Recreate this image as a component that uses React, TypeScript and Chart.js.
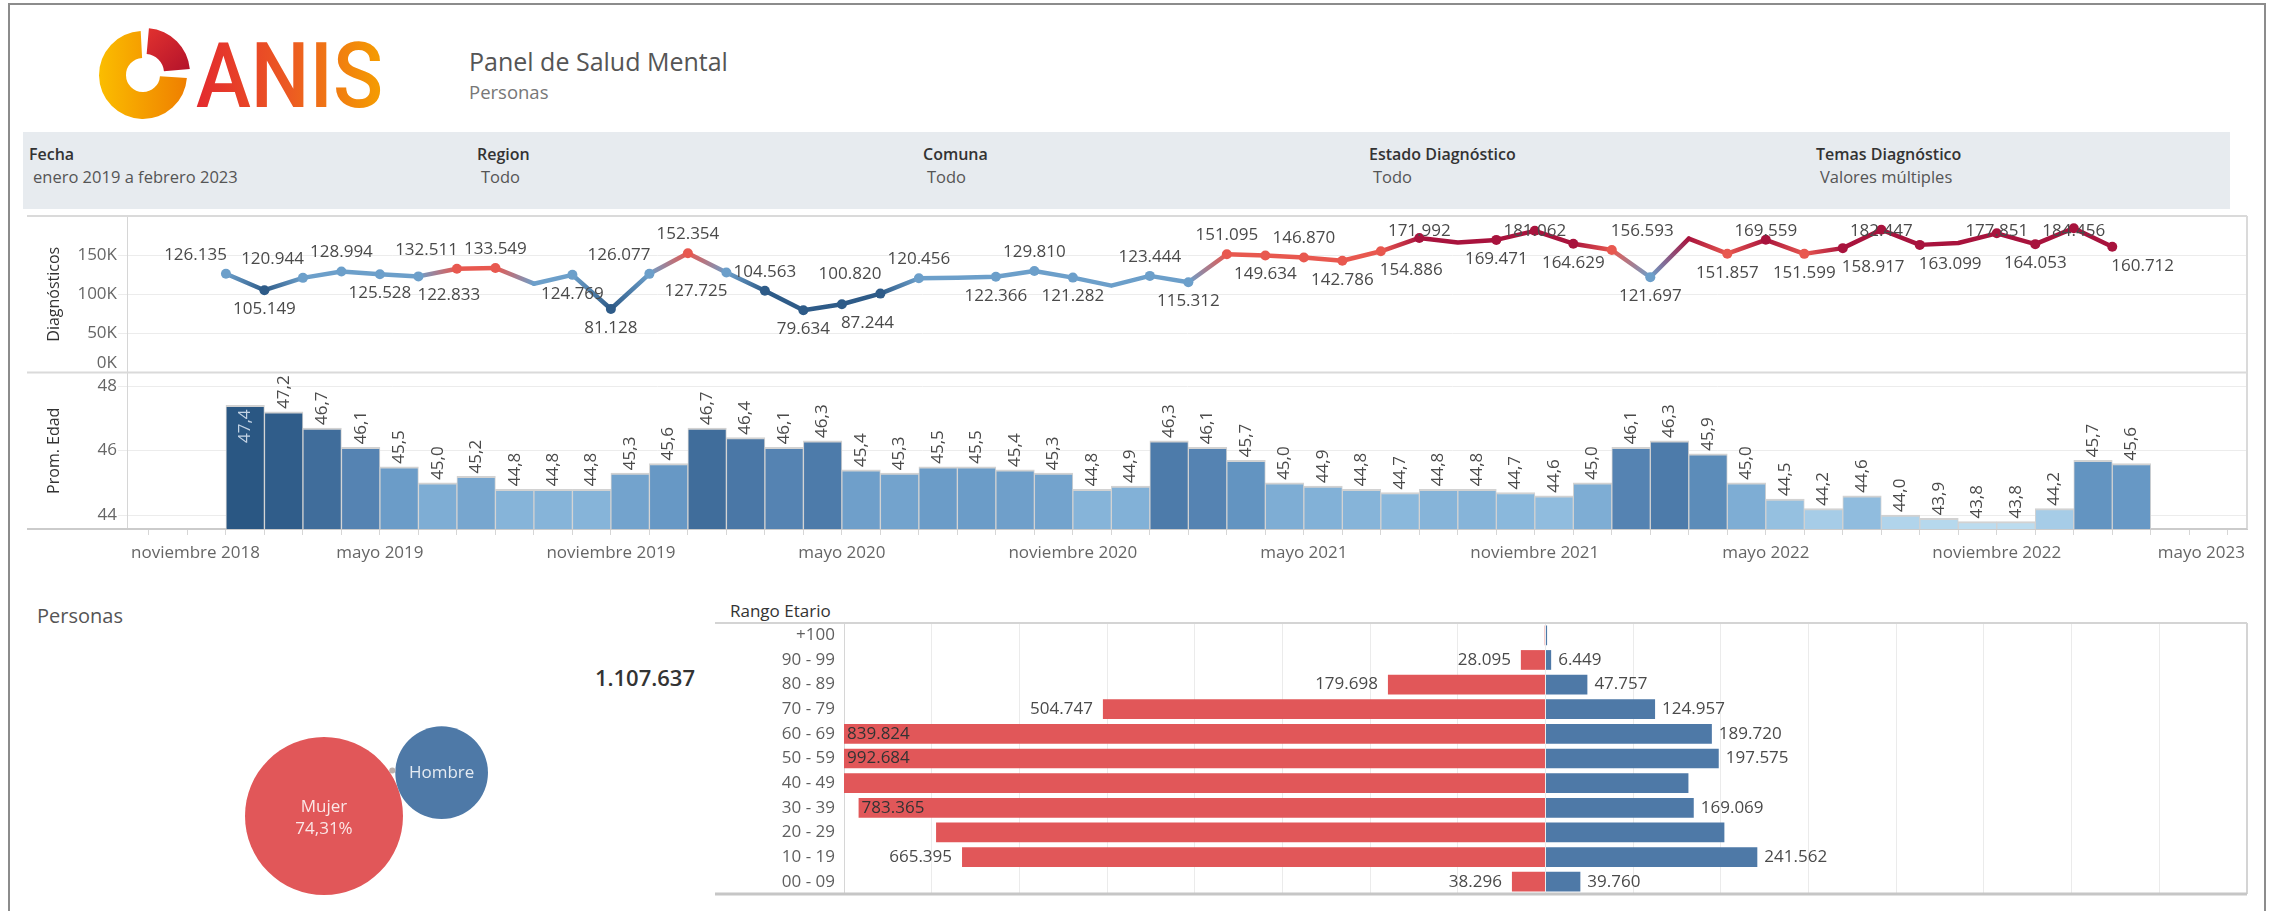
import React, { useEffect, useRef } from 'react';
import { Chart, registerables } from 'chart.js';

Chart.register(...registerables);

const FONT_FAMILY = "'Open Sans', 'Noto Sans', 'DejaVu Sans', sans-serif";
Chart.defaults.font.family = FONT_FAMILY;

// ---------------- DATA ----------------
const MONTH_NAMES = ['enero', 'febrero', 'marzo', 'abril', 'mayo', 'junio', 'julio', 'agosto', 'septiembre', 'octubre', 'noviembre', 'diciembre'];
const FIRST_YEAR = 2019; // month index 0 = enero 2019 ... 49 = febrero 2023

const diagnosticos = [
  126135, 105149, 120944, 128994, 125528, 122833, 132511, 133549, 113500, 124769,
  81128, 126077, 152354, 127725, 104563, 79634, 87244, 100820, 120456, 121000,
  122366, 129810, 121282, 111000, 123444, 115312, 151095, 149634, 146870, 142786,
  154886, 171992, 166000, 169471, 181062, 164629, 156593, 121697, 171000, 151857,
  169559, 151599, 158917, 182447, 163099, 165500, 177851, 164053, 184456, 160712,
];
// label placement: a = above, b = below, l/r = shifted left/right, '' = no label
const diagnosticosEtiqueta = [
  'al', 'b', 'al', 'a', 'b', 'br', 'al', 'a', '', 'b',
  'b', 'al', 'a', 'bl', 'a', 'b', 'br', 'al', 'a', '',
  'b', 'a', 'b', '', 'a', 'b', 'a', 'b', 'a', 'b',
  'br', 'a', '', 'b', 'a', 'b', 'ar', 'b', '', 'b',
  'a', 'b', 'br', 'a', 'br', '', 'a', 'b', 'a', 'br',
];
const promEdad = [
  47.4, 47.2, 46.7, 46.1, 45.5, 45.0, 45.2, 44.8, 44.8, 44.8,
  45.3, 45.6, 46.7, 46.4, 46.1, 46.3, 45.4, 45.3, 45.5, 45.5,
  45.4, 45.3, 44.8, 44.9, 46.3, 46.1, 45.7, 45.0, 44.9, 44.8,
  44.7, 44.8, 44.8, 44.7, 44.6, 45.0, 46.1, 46.3, 45.9, 45.0,
  44.5, 44.2, 44.6, 44.0, 43.9, 43.8, 43.8, 44.2, 45.7, 45.6,
];
const xTickLabels = [
  'noviembre 2018', 'mayo 2019', 'noviembre 2019', 'mayo 2020', 'noviembre 2020',
  'mayo 2021', 'noviembre 2021', 'mayo 2022', 'noviembre 2022', 'mayo 2023',
];
const diagTickValues = [0, 50000, 100000, 150000];
const edadTickValues = [44, 46, 48];

const rangoEtario = ['+100', '90 - 99', '80 - 89', '70 - 79', '60 - 69', '50 - 59', '40 - 49', '30 - 39', '20 - 29', '10 - 19', '00 - 09'];
const mujeresPorRango = [900, 28095, 179698, 504747, 839824, 992684, 905000, 783365, 695000, 665395, 38296];
const hombresPorRango = [1800, 6449, 47757, 124957, 189720, 197575, 163000, 169069, 204000, 241562, 39760];
const rangoConEtiqueta = [false, true, true, true, true, true, false, true, false, true, true];

const generos = ['Mujer', 'Hombre', 'Otro'];
const generoPct = [74.31, 25.58, 0.11];
const generoMuestraPct = [true, false, false];
const generoMuestraNombre = [true, true, false];
const totalPersonas = 1107637;

// ---------------- HELPERS ----------------
const monthIndex = (label: string) => {
  const [m, y] = label.split(' ');
  return (Number(y) - FIRST_YEAR) * 12 + MONTH_NAMES.indexOf(m);
};
const fmtMiles = (v: number) => Math.round(v).toString().replace(/\B(?=(\d{3})+(?!\d))/g, '.');
const fmtDec = (v: number) => v.toFixed(1).replace('.', ',');
const fmtPct = (v: number) => v.toFixed(2).replace('.', ',') + '%';

const hexToRgb = (h: string) => {
  const n = parseInt(h.slice(1), 16);
  return [(n >> 16) & 255, (n >> 8) & 255, n & 255];
};
const mixStops = (stops: string[], t: number) => {
  const tt = Math.max(0, Math.min(1, t));
  const p = tt * (stops.length - 1);
  const i = Math.min(stops.length - 2, Math.floor(p));
  const f = p - i;
  const a = hexToRgb(stops[i]);
  const b = hexToRgb(stops[i + 1]);
  const c = a.map((v, k) => Math.round(v + (b[k] - v) * f));
  return `rgb(${c[0]},${c[1]},${c[2]})`;
};

const DIAG_STEPS = ['#2e5b88', '#6c9fca', '#e8584f', '#a8133d'];
const dMin = Math.min(...diagnosticos);
const dMax = Math.max(...diagnosticos);
const diagColor = (v: number) => {
  const t = (v - dMin) / (dMax - dMin);
  return DIAG_STEPS[Math.min(DIAG_STEPS.length - 1, Math.floor(t * DIAG_STEPS.length))];
};

const BLUE_STOPS = ['#bcdcef', '#8ab8dc', '#6798c5', '#4673a2', '#2a5783'];
const eMin = Math.min(...promEdad);
const eMax = Math.max(...promEdad);
const edadColor = (v: number) => mixStops(BLUE_STOPS, (v - eMin) / (eMax - eMin));

// axis ranges (month units / data units)
const X_MIN = -2.57;
const X_MAX = 52.5;
const DIAG_MAX = 200000;
const EDAD_MIN = 43.57;
const EDAD_MAX = 48.42;
const PYR_MAX = 800000;
const PYR_STEP = 100000;

const TXT = (size: number, weight = 400) => `${weight} ${size}px ${FONT_FAMILY}`;

// ---------------- TIME CHARTS (line + bars, stacked axes) ----------------
function TimeCharts() {
  const ref = useRef<HTMLCanvasElement>(null);
  useEffect(() => {
    const lineData = diagnosticos.map((v, i) => ({ x: i, y: v }));
    const barData = promEdad.map((v, i) => ({ x: i + 0.5, y: v })); // bar spans its month

    const framePlugin = {
      id: 'frame',
      beforeDatasetsDraw(chart: any) {
        const { ctx, chartArea: a, scales } = chart;
        ctx.save();
        ctx.lineWidth = 2;
        ctx.strokeStyle = '#dadada';
        const hl = (y: number) => { ctx.beginPath(); ctx.moveTo(0, y); ctx.lineTo(a.right, y); ctx.stroke(); };
        hl(a.top);
        hl(scales.y2.top);
        ctx.beginPath(); ctx.moveTo(a.right, a.top); ctx.lineTo(a.right, a.bottom); ctx.stroke();
        ctx.strokeStyle = '#cbcbcb';
        hl(a.bottom);
        ctx.restore();
      },
    };

    const yLabelPlugin = {
      id: 'ylabels',
      afterDraw(chart: any) {
        const { ctx } = chart;
        ctx.save();
        ctx.font = TXT(17);
        ctx.fillStyle = '#666';
        ctx.textAlign = 'right';
        ctx.textBaseline = 'middle';
        const defs: [string, (v: number) => string][] = [['y', (v) => `${v / 1000}K`], ['y2', (v) => String(v)]];
        for (const [id, fmt] of defs) {
          const s = chart.scales[id];
          for (const t of s.ticks) {
            let y = s.getPixelForValue(t.value);
            y = Math.min(Math.max(y, s.top + 9), s.bottom - 9);
            ctx.fillText(fmt(t.value), s.right - 10, y);
          }
        }
        ctx.restore();
      },
    };

    const xLabelPlugin = {
      id: 'xlabels',
      afterDraw(chart: any) {
        const { ctx, chartArea: a } = chart;
        const s = chart.scales.x;
        ctx.save();
        ctx.font = TXT(17);
        ctx.fillStyle = '#666';
        ctx.textAlign = 'left';
        ctx.textBaseline = 'middle';
        for (const lbl of xTickLabels) {
          const px = s.getPixelForValue(monthIndex(lbl));
          const w = ctx.measureText(lbl).width;
          let left = px - w / 2;
          left = Math.max(left, a.left + 4);
          left = Math.min(left, a.right - 2 - w);
          ctx.fillText(lbl, left, a.bottom + 24);
        }
        ctx.restore();
      },
    };

    const lineLabelPlugin = {
      id: 'linelabels',
      afterDatasetsDraw(chart: any) {
        const { ctx, chartArea: a } = chart;
        const meta = chart.getDatasetMeta(0);
        ctx.save();
        ctx.font = TXT(17);
        ctx.fillStyle = '#4a4a4a';
        ctx.textBaseline = 'middle';
        meta.data.forEach((pt: any, i: number) => {
          const code = diagnosticosEtiqueta[i];
          if (!code) return;
          const text = fmtMiles(diagnosticos[i]);
          let cy = code[0] === 'a' ? pt.y - 19 : pt.y + 19;
          cy = Math.max(cy, a.top + 15);
          let tx = pt.x;
          if (code[1] === 'l') { ctx.textAlign = 'right'; tx = pt.x + 1; }
          else if (code[1] === 'r') { ctx.textAlign = 'left'; tx = pt.x - 1; }
          else ctx.textAlign = 'center';
          ctx.fillText(text, tx, cy);
        });
        ctx.restore();
      },
    };

    const barLabelPlugin = {
      id: 'barlabels',
      afterDatasetsDraw(chart: any) {
        const { ctx } = chart;
        const meta = chart.getDatasetMeta(1);
        const top = chart.scales.y2.top;
        ctx.save();
        ctx.font = TXT(17);
        ctx.textBaseline = 'middle';
        meta.data.forEach((bar: any, i: number) => {
          const text = fmtDec(promEdad[i]);
          const w = ctx.measureText(text).width;
          ctx.save();
          if (bar.y - top >= w + 3) {
            ctx.translate(bar.x, bar.y - 3);
            ctx.rotate(-Math.PI / 2);
            ctx.textAlign = 'left';
            ctx.fillStyle = '#4a4a4a';
          } else {
            ctx.translate(bar.x, bar.y + 4);
            ctx.rotate(-Math.PI / 2);
            ctx.textAlign = 'right';
            ctx.fillStyle = '#c3d3e4';
          }
          ctx.fillText(text, 0, 0);
          ctx.restore();
        });
        ctx.restore();
      },
    };

    const chart = new Chart(ref.current as HTMLCanvasElement, {
      type: 'line',
      data: {
        datasets: [
          {
            type: 'line',
            label: 'Diagnósticos',
            data: lineData,
            xAxisID: 'x',
            yAxisID: 'y',
            borderWidth: 4.5,
            borderColor: '#6c9fca',
            borderCapStyle: 'round',
            borderJoinStyle: 'round',
            tension: 0,
            pointRadius: (c: any) => (diagnosticosEtiqueta[c.dataIndex] ? 5 : 0),
            pointHoverRadius: 0,
            pointBorderWidth: 0,
            pointBackgroundColor: (c: any) => diagColor(diagnosticos[c.dataIndex]),
            segment: {
              borderColor: (c: any) => {
                const c0 = diagColor(diagnosticos[c.p0DataIndex]);
                const c1 = diagColor(diagnosticos[c.p1DataIndex]);
                if (c0 === c1) return c0;
                const g = c.chart.ctx.createLinearGradient(c.p0.x, c.p0.y, c.p1.x, c.p1.y);
                g.addColorStop(0, c0);
                g.addColorStop(1, c1);
                return g;
              },
            },
            order: 0,
          } as any,
          {
            type: 'bar',
            label: 'Prom. Edad',
            data: barData,
            xAxisID: 'x',
            yAxisID: 'y2',
            base: EDAD_MIN,
            backgroundColor: (c: any) => edadColor(promEdad[c.dataIndex]),
            borderColor: '#d2d2d2',
            borderWidth: { top: 2, left: 1, right: 1, bottom: 0 },
            borderSkipped: false,
            barPercentage: 1,
            categoryPercentage: 1,
            order: 1,
          } as any,
        ],
      },
      options: {
        animation: false,
        responsive: false,
        maintainAspectRatio: false,
        layout: { autoPadding: false, padding: { top: 3, right: 3, left: 0, bottom: 0 } },
        plugins: { legend: { display: false }, tooltip: { enabled: false } },
        events: [],
        scales: {
          x: {
            type: 'linear',
            position: 'bottom',
            min: X_MIN,
            max: X_MAX,
            offset: false,
            grid: { offset: false, drawOnChartArea: false, drawTicks: true, tickLength: 6, color: '#d6d6d6' },
            border: { display: true, color: '#cbcbcb', width: 2 },
            ticks: { display: false },
            afterBuildTicks: (s: any) => {
              const t = [];
              for (let v = Math.ceil(X_MIN); v <= Math.floor(X_MAX); v++) t.push({ value: v });
              s.ticks = t;
            },
            afterFit: (s: any) => { s.height = 47; },
          },
          y: {
            type: 'linear',
            position: 'left',
            stack: 'rows',
            stackWeight: 1,
            weight: 2,
            min: 0,
            max: DIAG_MAX,
            ticks: { display: false },
            afterBuildTicks: (s: any) => { s.ticks = diagTickValues.map((v) => ({ value: v })); },
            grid: { color: '#ececec', drawTicks: true, tickLength: 9 },
            border: { display: true, color: '#d6d6d6' },
            title: { display: true, text: 'Diagnósticos', color: '#333', font: { size: 16, family: FONT_FAMILY }, padding: { top: 18, bottom: 0 } },
            afterFit: (s: any) => { s.width = 100; },
          },
          y2: {
            type: 'linear',
            position: 'left',
            stack: 'rows',
            stackWeight: 1,
            weight: 1,
            min: EDAD_MIN,
            max: EDAD_MAX,
            ticks: { display: false },
            afterBuildTicks: (s: any) => { s.ticks = edadTickValues.map((v) => ({ value: v })); },
            grid: { color: '#ececec', drawTicks: true, tickLength: 9 },
            border: { display: true, color: '#d6d6d6' },
            title: { display: true, text: 'Prom. Edad', color: '#333', font: { size: 16, family: FONT_FAMILY }, padding: { top: 18, bottom: 0 } },
            afterFit: (s: any) => { s.width = 100; },
          },
        } as any,
      },
      plugins: [framePlugin, lineLabelPlugin, barLabelPlugin, xLabelPlugin, yLabelPlugin],
    } as any);
    return () => chart.destroy();
  }, []);
  return <canvas ref={ref} width={2223} height={363} style={{ position: 'absolute', left: 27, top: 213 }} />;
}

// ---------------- GENDER BUBBLES ----------------
function GenderBubbles() {
  const ref = useRef<HTMLCanvasElement>(null);
  useEffect(() => {
    // packed layout: radius ~ sqrt(share); first bubble at origin, second tangent at an angle,
    // third tangent to both (upper side)
    const K = 9.164;
    const r = generoPct.map((p) => K * Math.sqrt(p));
    const ang = (-20.2 * Math.PI) / 180;
    const d = r[0] + r[1];
    const hx = d * Math.cos(ang);
    const hy = d * Math.sin(ang);
    const R1 = r[0] + r[2];
    const R2 = r[1] + r[2];
    const a = (R1 * R1 - R2 * R2 + d * d) / (2 * d);
    const h = Math.sqrt(Math.max(0, R1 * R1 - a * a));
    const ux = hx / d, uy = hy / d;
    const ox = a * ux + h * uy;
    const oy = a * uy - h * ux;
    const pts = [
      { x: 0, y: 0, r: r[0] },
      { x: hx, y: hy, r: r[1] },
      { x: ox, y: oy, r: r[2] },
    ];

    const labelPlugin = {
      id: 'bubblelabels',
      afterDatasetsDraw(chart: any) {
        const { ctx } = chart;
        const meta = chart.getDatasetMeta(0);
        ctx.save();
        ctx.font = TXT(17);
        ctx.textAlign = 'center';
        ctx.textBaseline = 'middle';
        ctx.fillStyle = 'rgba(255,255,255,0.85)';
        meta.data.forEach((el: any, i: number) => {
          if (generoMuestraNombre[i] && generoMuestraPct[i]) {
            ctx.fillText(generos[i], el.x, el.y - 9);
            ctx.fillText(fmtPct(generoPct[i]), el.x, el.y + 13);
          } else if (generoMuestraNombre[i]) {
            ctx.fillText(generos[i], el.x, el.y);
          }
        });
        ctx.restore();
      },
    };

    const chart = new Chart(ref.current as HTMLCanvasElement, {
      type: 'bubble',
      data: {
        datasets: [{
          label: 'Personas',
          data: pts,
          backgroundColor: ['#e15759', '#4e79a7', '#bab0ac'],
          borderWidth: 0,
          hoverRadius: 0,
          clip: false,
        }],
      },
      options: {
        animation: false,
        responsive: false,
        events: [],
        layout: { autoPadding: false, padding: 0 },
        plugins: { legend: { display: false }, tooltip: { enabled: false } },
        scales: {
          x: { display: false, min: -174, max: 246 },
          y: { display: false, min: -136, max: 95, reverse: true },
        },
      },
      plugins: [labelPlugin],
    } as any);
    return () => chart.destroy();
  }, []);
  return <canvas ref={ref} width={420} height={231} style={{ position: 'absolute', left: 150, top: 680 }} />;
}

// ---------------- AGE PYRAMID ----------------
function AgePyramid() {
  const ref = useRef<HTMLCanvasElement>(null);
  useEffect(() => {
    const framePlugin = {
      id: 'pyrframe',
      afterDraw(chart: any) {
        const { ctx, chartArea: a } = chart;
        ctx.save();
        ctx.strokeStyle = '#d4d4d4';
        ctx.lineWidth = 2;
        ctx.beginPath(); ctx.moveTo(0, a.top); ctx.lineTo(a.right, a.top); ctx.stroke();
        ctx.beginPath(); ctx.moveTo(a.right, a.top); ctx.lineTo(a.right, a.bottom); ctx.stroke();
        ctx.strokeStyle = '#c6c6c6';
        ctx.lineWidth = 3;
        ctx.beginPath(); ctx.moveTo(0, a.bottom); ctx.lineTo(a.right, a.bottom); ctx.stroke();
        ctx.restore();
      },
    };
    const labelPlugin = {
      id: 'pyrlabels',
      afterDatasetsDraw(chart: any) {
        const { ctx, chartArea: a } = chart;
        ctx.save();
        ctx.font = TXT(17);
        ctx.textBaseline = 'middle';
        [0, 1].forEach((d) => {
          const meta = chart.getDatasetMeta(d);
          meta.data.forEach((bar: any, i: number) => {
            if (!rangoConEtiqueta[i]) return;
            const value = d === 0 ? mujeresPorRango[i] : hombresPorRango[i];
            const text = fmtMiles(value);
            const w = ctx.measureText(text).width;
            if (d === 0) {
              if (bar.x - 10 - w >= a.left) {
                ctx.textAlign = 'right';
                ctx.fillStyle = '#4a4a4a';
                ctx.fillText(text, bar.x - 10, bar.y);
              } else {
                ctx.textAlign = 'left';
                ctx.fillStyle = '#333';
                ctx.fillText(text, Math.max(bar.x, a.left) + 3, bar.y);
              }
            } else {
              ctx.textAlign = 'left';
              ctx.fillStyle = '#4a4a4a';
              ctx.fillText(text, bar.x + 7, bar.y);
            }
          });
        });
        ctx.restore();
      },
    };

    const chart = new Chart(ref.current as HTMLCanvasElement, {
      type: 'bar',
      data: {
        labels: rangoEtario,
        datasets: [
          { label: 'Mujer', data: mujeresPorRango.map((v) => -v), backgroundColor: '#e15759', barPercentage: 0.8, categoryPercentage: 1, borderWidth: 0 },
          { label: 'Hombre', data: hombresPorRango, backgroundColor: '#4e79a7', barPercentage: 0.8, categoryPercentage: 1, borderWidth: 0 },
        ],
      },
      options: {
        indexAxis: 'y',
        animation: false,
        responsive: false,
        events: [],
        layout: { autoPadding: false, padding: { top: 3, bottom: 4, right: 3, left: 0 } },
        plugins: { legend: { display: false }, tooltip: { enabled: false } },
        scales: {
          x: {
            type: 'linear',
            stacked: true,
            min: -PYR_MAX,
            max: PYR_MAX,
            ticks: { display: false, stepSize: PYR_STEP },
            grid: { color: '#ebebeb', drawTicks: false },
            border: { display: false },
            afterFit: (s: any) => { s.height = 0; s.paddingLeft = 0; s.paddingRight = 0; },
          },
          y: {
            type: 'category',
            stacked: true,
            ticks: { color: '#5f5f5f', font: { size: 17, family: FONT_FAMILY }, padding: 9 },
            grid: { display: false, drawTicks: false },
            border: { display: true, color: '#d6d6d6' },
            afterFit: (s: any) => { s.width = 129; s.paddingTop = 0; s.paddingBottom = 0; },
          },
        },
      },
      plugins: [framePlugin, labelPlugin],
    } as any);
    return () => chart.destroy();
  }, []);
  return <canvas ref={ref} width={1535} height={278} style={{ position: 'absolute', left: 715, top: 620 }} />;
}

// ---------------- STATIC LAYER (logo, titles, filters) ----------------
function annularSector(cx: number, cy: number, R: number, r: number, a0: number, a1: number) {
  const p = (rad: number, a: number) => {
    const t = (a * Math.PI) / 180;
    return [cx + rad * Math.sin(t), cy - rad * Math.cos(t)];
  };
  const large = a1 - a0 > 180 ? 1 : 0;
  const [x0, y0] = p(R, a0);
  const [x1, y1] = p(R, a1);
  const [x2, y2] = p(r, a1);
  const [x3, y3] = p(r, a0);
  return `M${x0},${y0} A${R},${R} 0 ${large} 1 ${x1},${y1} L${x2},${y2} A${r},${r} 0 ${large} 0 ${x3},${y3} Z`;
}

const filtros = [
  { titulo: 'Fecha', valor: 'enero 2019 a febrero 2023', x: 29 },
  { titulo: 'Region', valor: 'Todo', x: 477 },
  { titulo: 'Comuna', valor: 'Todo', x: 923 },
  { titulo: 'Estado Diagnóstico', valor: 'Todo', x: 1369 },
  { titulo: 'Temas Diagnóstico', valor: 'Valores múltiples', x: 1816 },
];

function StaticLayer() {
  return (
    <svg width={2278} height={911} style={{ position: 'absolute', left: 0, top: 0 }} fontFamily={FONT_FAMILY}>
      <defs>
        <linearGradient id="anisGrad" x1="196" y1="0" x2="383" y2="0" gradientUnits="userSpaceOnUse">
          <stop offset="0" stopColor="#e32a2e" />
          <stop offset="0.5" stopColor="#ec5a22" />
          <stop offset="1" stopColor="#f59e00" />
        </linearGradient>
        <linearGradient id="ringGrad" x1="99" y1="0" x2="187" y2="0" gradientUnits="userSpaceOnUse">
          <stop offset="0" stopColor="#fbbd00" />
          <stop offset="1" stopColor="#ef7f00" />
        </linearGradient>
        <linearGradient id="redGrad" x1="148" y1="30" x2="188" y2="72" gradientUnits="userSpaceOnUse">
          <stop offset="0" stopColor="#e0312f" />
          <stop offset="1" stopColor="#b3122b" />
        </linearGradient>
      </defs>
      <rect x={9} y={4} width={2256} height={1000} fill="none" stroke="#8c8c8c" strokeWidth={2} />

      {/* logo */}
      <path d={annularSector(143, 75, 44, 17, 94, 357)} fill="url(#ringGrad)" />
      <path d={annularSector(145, 73, 45, 19, 5, 85)} fill="url(#redGrad)" />
      <text x={196} y={107} fontSize={90} fontFamily="Roboto, 'Open Sans', sans-serif" fontWeight={500}
        fill="url(#anisGrad)" textLength={187} lengthAdjust="spacingAndGlyphs">ANIS</text>

      {/* title */}
      <text x={469} y={71} fontSize={25} fill="#555">Panel de Salud Mental</text>
      <text x={469} y={99} fontSize={18.5} fill="#777">Personas</text>

      {/* filter bar */}
      <rect x={23} y={132} width={2207} height={77} fill="#e7ebef" />
      {filtros.map((f) => (
        <g key={f.titulo}>
          <text x={f.x} y={160} fontSize={16} fontWeight={600} fill="#333">{f.titulo}</text>
          <text x={f.x + 4} y={183} fontSize={16.5} fill="#555">{f.valor}</text>
        </g>
      ))}

      {/* lower section texts */}
      <text x={37} y={623} fontSize={20} fill="#555">Personas</text>
      <text x={695} y={686} fontSize={22} fontWeight={600} fill="#333" textAnchor="end">{fmtMiles(totalPersonas)}</text>
      <text x={730} y={617} fontSize={17} fill="#333">Rango Etario</text>
    </svg>
  );
}

export default function App() {
  return (
    <div style={{ position: 'absolute', left: 0, top: 0, width: 2278, height: 911, overflow: 'hidden', background: '#fff', fontFamily: FONT_FAMILY }}>
      <StaticLayer />
      <TimeCharts />
      <GenderBubbles />
      <AgePyramid />
    </div>
  );
}
